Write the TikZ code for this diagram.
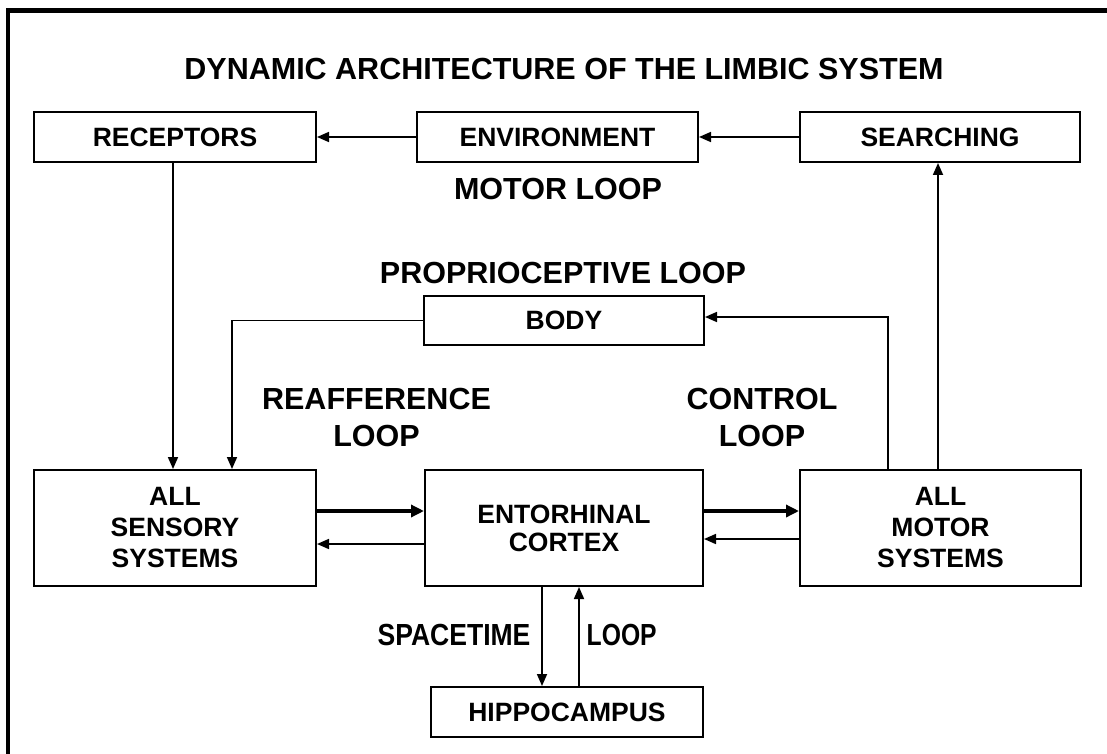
\documentclass[tikz,border=0pt]{standalone}
\usepackage{fontspec}
\setmainfont{Liberation Sans}
\usepackage{graphicx}
\usetikzlibrary{arrows.meta,calc}
\begin{document}
\begin{tikzpicture}[x=1pt,y=-1pt,
  box/.style={draw, line width=2pt, minimum height=50pt, inner sep=0pt,
    font=\fontsize{26.5}{31}\selectfont\bfseries, align=center},
  lbl/.style={font=\fontsize{30.5}{37}\selectfont\bfseries, inner sep=0pt, align=center},
  arr/.style={line width=1.7pt, -{Triangle[length=12pt,width=10pt]}},
  bigarr/.style={line width=3.4pt, -{Triangle[length=13pt,width=12pt]}},
  frameline/.style={line width=4.5pt}
]
\useasboundingbox (0,0) rectangle (1107,754);
\fill[white] (0,0) rectangle (1107,754);
\draw[frameline] (8,754) -- (8,10.5) -- (1107,10.5);

% labels
\node[lbl, anchor=base] (title) at (564,79.5) {DYNAMIC ARCHITECTURE OF THE LIMBIC SYSTEM};
\node[lbl, anchor=base] (motorloop) at (558,199) {MOTOR LOOP};
\node[lbl, anchor=base] (proprio) at (563,283) {PROPRIOCEPTIVE LOOP};
\node[lbl, anchor=north] (reaff) at (376.5,388) {REAFFERENCE\\LOOP};
\node[lbl, anchor=north] (control) at (762,388) {CONTROL\\LOOP};
\node[lbl, anchor=base] (spacetime) at (454,645) {\scalebox{0.87}[1]{SPACETIME}};
\node[lbl, anchor=base] (stloop) at (621.7,645) {\scalebox{0.81}[1]{LOOP}};

% boxes
\node[box, minimum width=282pt] (rec) at (175,137) {RECEPTORS};
\node[box, minimum width=281pt] (env) at (557.5,137) {ENVIRONMENT};
\node[box, minimum width=280pt] (srch) at (940,137) {SEARCHING};
\node[box, minimum width=280pt, minimum height=49pt] (body) at (564,320.5) {BODY};
\node[box, minimum width=282pt, minimum height=116pt] (sens) at (175,528) {ALL\\SENSORY\\SYSTEMS};
\node[box, minimum width=278pt, minimum height=116pt,
  font=\fontsize{26.5}{28}\selectfont\bfseries] (ent) at (564,528) {ENTORHINAL\\CORTEX};
\node[box, minimum width=281pt, minimum height=116pt] (mot) at (940.5,528) {ALL\\MOTOR\\SYSTEMS};
\node[box, minimum width=272pt] (hip) at (567,712) {HIPPOCAMPUS};

% connectors
\draw[arr] (env.west) -- (rec.east);
\draw[arr] (srch.west) -- (env.east);
\draw[arr] ([xshift=-2pt]rec.south) -- ([xshift=-2pt]sens.north);
\draw[arr] (body.west) -| ([xshift=57pt]sens.north);
\draw[arr] ([xshift=-52.5pt]mot.north) |- ([yshift=3.5pt]body.east);
\draw[arr] ([xshift=-2.5pt]mot.north) -- ([xshift=-2pt]srch.south);
\draw[bigarr] ([yshift=17pt]sens.east) -- ([yshift=17pt]ent.west);
\draw[arr] ([yshift=-16pt]ent.west) -- ([yshift=-16pt]sens.east);
\draw[bigarr] ([yshift=17pt]ent.east) -- ([yshift=17pt]mot.west);
\draw[arr] ([yshift=-11pt]mot.west) -- ([yshift=-11pt]ent.east);
\draw[arr] ([xshift=-22pt]ent.south) -- ([xshift=-25pt]hip.north);
\draw[arr] ([xshift=12pt]hip.north) -- ([xshift=15pt]ent.south);
\end{tikzpicture}
\end{document}
